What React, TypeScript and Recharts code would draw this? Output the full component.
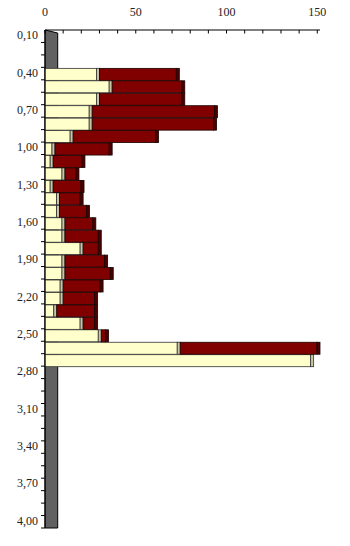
import React from "react";
import { BarChart, Bar, XAxis, YAxis, ReferenceArea } from "recharts";

const depths = [
  "0,10", "0,20", "0,30", "0,40", "0,50", "0,60", "0,70", "0,80", "0,90", "1,00",
  "1,10", "1,20", "1,30", "1,40", "1,50", "1,60", "1,70", "1,80", "1,90", "2,00",
  "2,10", "2,20", "2,30", "2,40", "2,50", "2,60", "2,70", "2,80", "2,90", "3,00",
  "3,10", "3,20", "3,30", "3,40", "3,50", "3,60", "3,70", "3,80", "3,90", "4,00",
];

const serieA = [
  null, null, null, 30, 37, 30, 26, 26, 15.5, 5.5,
  4.5, 11, 4.5, 8, 8, 11, 11, 21, 11, 11,
  10, 10, 6.5, 21, 31, 74.5, 148, null, null, null,
  null, null, null, null, null, null, null, null, null, null,
];

const serieB = [
  null, null, null, 44, 40, 47, 69, 68.5, 47, 31.5,
  17.5, 7.7, 17, 13, 16.5, 17, 20, 10, 23.5, 26.6,
  22, 19, 22.5, 8, 4, 77, null, null, null, null,
  null, null, null, null, null, null, null, null, null, null,
];

const xTicks = [0, 10, 20, 30, 40, 50, 60, 70, 80, 90, 100, 110, 120, 130, 140, 150];
const xLabels = [0, 50, 100, 150];

const data = depths.map((d, i) => ({ d, a: serieA[i], b: serieB[i] }));

const W = 350;
const H = 546;
const AXIS_TOP = 30;
const M = { top: 0, right: 30, bottom: 18, left: 0 };
const band = (H - AXIS_TOP - M.bottom) / depths.length;
const font = "'Liberation Serif', 'Times New Roman', serif";

function make3D(side: string, edge: string) {
  return (p: any) => {
    const { x, y, width, height, fill } = p;
    if (!width || width <= 0) return <g />;
    const s = Math.min(3, width);
    return (
      <g>
        <rect x={x} y={y + 1} width={width - s} height={height} fill={fill} stroke={edge} strokeWidth={0.8} />
        <rect x={x + width - s} y={y + 1} width={s} height={height} fill={side} stroke={edge} strokeWidth={0.8} />
      </g>
    );
  };
}

const XTick = (p: any) => {
  const { x, y, payload } = p;
  return (
    <g>
      <line x1={x} y1={y} x2={x} y2={y + 3.5} stroke="#000" />
      {xLabels.includes(payload.value) && (
        <text x={x} y={y - 14} textAnchor="middle" fontSize={12} fill="#222" style={{ fontFamily: font }}>
          {payload.value}
        </text>
      )}
    </g>
  );
};

const YTick = (p: any) => {
  const { x, y, payload, index } = p;
  return (
    <g>
      <line x1={x - 4} y1={y + band / 2} x2={x} y2={y + band / 2} stroke="#000" />
      {index % 3 === 0 && (
        <text x={x - 7} y={y + 3} textAnchor="end" fontSize={12} fill="#222" style={{ fontFamily: font }}>
          {payload.value}
        </text>
      )}
    </g>
  );
};

const Wall = (p: any) => {
  const { x, y, width, height } = p;
  return (
    <path
      d={`M${x},${y} L${x + width},${y + 3} L${x + width},${y + height} L${x},${y + height} Z`}
      fill="#616161"
      stroke="#000"
      strokeWidth={1}
    />
  );
};

export default function App() {
  return (
    <div style={{ position: "absolute", left: 0, top: 0, background: "#fff", fontFamily: font }}>
      <BarChart
        width={W}
        height={H}
        data={data}
        layout="vertical"
        margin={M}
        barCategoryGap={0}
        barGap={0}
      >
        <XAxis
          type="number"
          orientation="top"
          height={AXIS_TOP}
          domain={[0, 150]}
          ticks={xTicks}
          interval={0}
          tickSize={0}
          tickMargin={0}
          tick={<XTick />}
          axisLine={{ stroke: "#000" }}
          tickLine={false}
        />
        <YAxis
          type="category"
          dataKey="d"
          width={45}
          interval={0}
          tickSize={0}
          tickMargin={0}
          tick={<YTick />}
          axisLine={{ stroke: "#000" }}
          tickLine={false}
        />
        <ReferenceArea x1={0} x2={7} shape={<Wall />} ifOverflow="visible" />
        <Bar
          dataKey="a"
          stackId="s"
          fill="#FFFFCC"
          isAnimationActive={false}
          shape={make3D("#C9C6A6", "#333")}
        />
        <Bar
          dataKey="b"
          stackId="s"
          fill="#800000"
          isAnimationActive={false}
          shape={make3D("#4A0000", "#1a0000")}
        />
      </BarChart>
    </div>
  );
}
